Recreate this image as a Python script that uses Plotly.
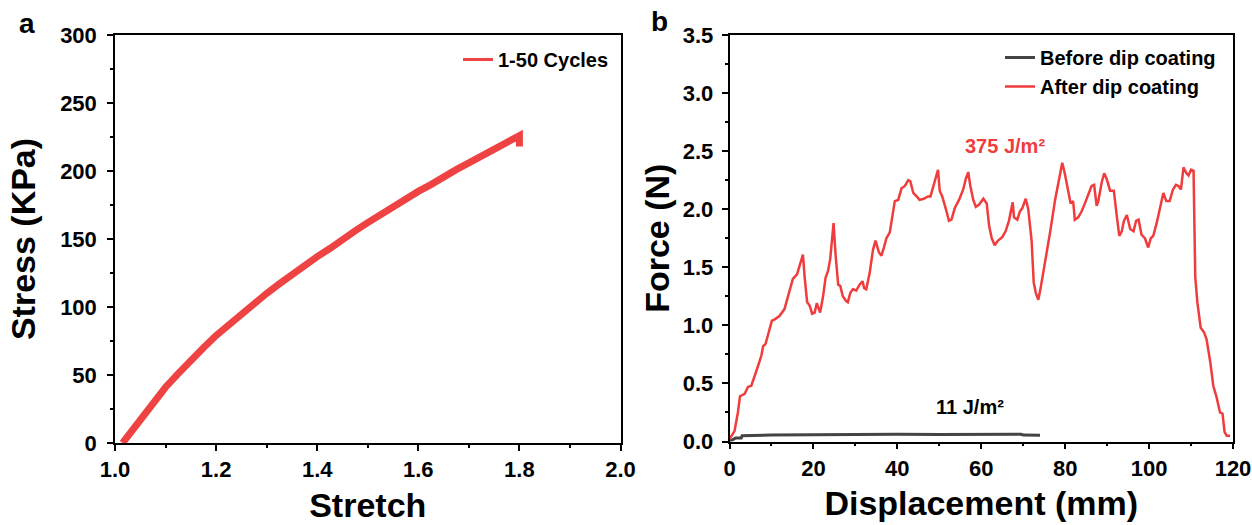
import plotly.graph_objects as go

# ---------------- data: panel a (stress vs stretch, 1-50 cycles) ----------------
stretch = [1.015, 1.05, 1.075, 1.1, 1.125, 1.15, 1.175, 1.2, 1.225, 1.25, 1.275, 1.3, 1.325, 1.35,
           1.375, 1.4, 1.425, 1.45, 1.475, 1.5, 1.525, 1.55, 1.575, 1.6, 1.625, 1.65, 1.675, 1.7,
           1.725, 1.75, 1.775, 1.8, 1.8]
stress = [0, 17, 29, 41, 51, 61, 70, 79, 87, 95, 103, 110, 117, 124, 131, 137, 143, 150, 156, 162,
          168, 174, 179, 185, 190, 196, 201, 206, 211, 216, 221, 226, 218]

# ---------------- data: panel b (force vs displacement) ----------------
before_x = [0, 0.8, 1.5, 2.8, 3.0, 10, 20, 30, 40, 50, 60, 69.5, 70, 74]
before_y = [0.0, 0.02, 0.03, 0.03, 0.05, 0.055, 0.058, 0.058, 0.062, 0.06, 0.06, 0.062, 0.055, 0.053]

after_x = [0, 1.2, 2.0, 2.5, 3.6, 4.4, 5.2, 6.0, 6.8, 7.6, 8.0, 8.6, 9.4, 10.1, 10.7, 11.9, 13.1, 14.3,
           15.1, 16.1, 16.9, 17.5, 17.9, 18.5, 19.1, 19.7, 20.3, 20.8, 21.6, 22.3, 22.9, 23.5, 24.0, 24.8,
           25.3, 25.9, 26.4, 27.0, 27.8, 28.2, 28.8, 29.4, 30.2, 31.0, 31.7, 32.1, 32.6, 33.4, 34.2, 34.8,
           35.6, 36.2, 36.8, 37.4, 38.2, 38.8, 39.4, 40.2, 41.0, 41.8, 42.6, 43.1, 43.8, 44.6, 45.3, 46.3,
           47.3, 47.9, 48.9, 49.7, 50.1, 50.7, 51.5, 52.3, 52.9, 53.7, 54.7, 55.7, 56.3, 56.9, 57.4, 58.1,
           58.7, 59.5, 60.5, 61.3, 61.9, 62.5, 63.2, 64.0, 65.0, 65.8, 66.6, 67.5, 67.8, 68.6, 69.2, 69.8,
           70.6, 71.2, 72.0, 72.5, 73.0, 73.6, 74.1, 75.2, 76.4, 77.6, 78.8, 79.3, 79.9, 80.7, 81.3, 81.9,
           82.3, 83.1, 83.9, 84.7, 85.5, 86.3, 86.9, 87.5, 87.9, 88.7, 89.3, 89.9, 90.7, 91.6, 92.3, 92.9,
           93.5, 94.0, 94.7, 95.5, 96.3, 96.9, 97.5, 98.2, 99.0, 99.8, 100.4, 101.0, 101.8, 102.6, 103.4,
           104.1, 104.9, 105.7, 106.4, 107.0, 107.6, 108.2, 108.9, 109.4, 110.0, 110.6, 111.0, 111.5, 112.3,
           113.1, 113.7, 114.6, 115.3, 116.1, 116.9, 117.5, 118.0, 118.5, 119.3]
after_y = [0.02, 0.09, 0.25, 0.39, 0.41, 0.47, 0.48, 0.56, 0.65, 0.74, 0.82, 0.84, 0.95, 1.04, 1.05, 1.08,
           1.14, 1.31, 1.40, 1.44, 1.53, 1.61, 1.42, 1.20, 1.17, 1.10, 1.11, 1.19, 1.11, 1.25, 1.41, 1.47,
           1.57, 1.88, 1.60, 1.35, 1.34, 1.25, 1.21, 1.20, 1.28, 1.31, 1.30, 1.35, 1.38, 1.32, 1.31, 1.45,
           1.65, 1.73, 1.63, 1.60, 1.67, 1.75, 1.80, 1.94, 2.07, 2.08, 2.18, 2.20, 2.25, 2.24, 2.14, 2.11,
           2.08, 2.09, 2.11, 2.11, 2.23, 2.34, 2.16, 2.11, 2.01, 1.90, 1.91, 2.01, 2.08, 2.17, 2.26, 2.32,
           2.20, 2.08, 2.02, 2.04, 2.09, 2.05, 1.85, 1.75, 1.69, 1.73, 1.76, 1.81, 1.90, 2.06, 1.93, 1.91,
           1.98, 2.01, 2.09, 2.00, 1.73, 1.37, 1.28, 1.22, 1.31, 1.54, 1.80, 2.08, 2.31, 2.40, 2.31, 2.14,
           2.05, 2.07, 1.91, 1.93, 1.98, 2.05, 2.12, 2.20, 2.21, 2.03, 2.07, 2.23, 2.31, 2.26, 2.16, 2.16,
           1.94, 1.77, 1.81, 1.90, 1.95, 1.83, 1.81, 1.90, 1.91, 1.78, 1.75, 1.67, 1.75, 1.77, 1.88, 2.00,
           2.14, 2.07, 2.07, 2.17, 2.21, 2.20, 2.17, 2.36, 2.31, 2.29, 2.34, 2.33, 1.42, 1.20, 0.98, 0.94,
           0.88, 0.68, 0.48, 0.38, 0.25, 0.24, 0.08, 0.05, 0.05]

stress_ticks = [0, 50, 100, 150, 200, 250, 300]
stretch_ticks = [1.0, 1.2, 1.4, 1.6, 1.8, 2.0]
force_ticks = [0.0, 0.5, 1.0, 1.5, 2.0, 2.5, 3.0, 3.5]
disp_ticks = [0, 20, 40, 60, 80, 100, 120]

RED = "#f03c3c"
RED_A = "#ef4242"
GRAY = "#444444"
FONT = "Liberation Sans, Arial, sans-serif"
W, H = 1252, 525

def px_x(p):
    return p / W

def px_y(p):
    return 1 - p / H

fig = go.Figure()
# thick band = 50 overlapping loading cycles
fig.add_trace(go.Scatter(x=stretch, y=stress, mode="lines", name="1-50 Cycles", showlegend=False,
                         line=dict(color=RED_A, width=7), xaxis="x", yaxis="y"))
# legend entry (thin sample line as in the original)
fig.add_trace(go.Scatter(x=[None], y=[None], mode="lines", name="1-50 Cycles",
                         line=dict(color=RED_A, width=3), xaxis="x", yaxis="y", legend="legend"))
fig.add_trace(go.Scatter(x=before_x, y=before_y, mode="lines", name="Before dip coating",
                         line=dict(color=GRAY, width=3), xaxis="x2", yaxis="y2", legend="legend2"))
fig.add_trace(go.Scatter(x=after_x, y=after_y, mode="lines", name="After dip coating",
                         line=dict(color=RED, width=2.5), xaxis="x2", yaxis="y2", legend="legend2"))

tickfont = dict(family=FONT, size=22, color="black", weight="bold")
titlefont = dict(family=FONT, size=34, color="black", weight="bold")

def axis(domain, rng, ticks, minor_dtick, title, anchor, fmt=None, standoff=10, lstand=None):
    d = dict(domain=domain, range=rng, tickmode="array", tickvals=ticks, automargin=False,
             ticks="outside", ticklen=6, tickwidth=1.5, tickcolor="black",
             showline=True, linewidth=1.5, linecolor="black", mirror=True,
             showgrid=False, zeroline=False, tickfont=tickfont, anchor=anchor,
             minor=dict(ticks="outside", ticklen=3, tickwidth=1.5, tickcolor="black",
                        dtick=minor_dtick, tick0=rng[0], showgrid=False),
             title=dict(text=title, font=titlefont, standoff=standoff))
    if fmt:
        d["tickformat"] = fmt
    if lstand is not None:
        d["ticklabelstandoff"] = lstand
    return d

fig.update_layout(
    width=W, height=H, margin=dict(l=0, r=0, t=0, b=0, autoexpand=False),
    paper_bgcolor="white", plot_bgcolor="white",
    xaxis=axis([px_x(115), px_x(620.5)], [1.0, 2.0], stretch_ticks, 0.1, "Stretch", "y", ".1f", 12, 0),
    yaxis=axis([px_y(443), px_y(35)], [0, 300], stress_ticks, 25, "Stress (KPa)", "x", None, 14, 6),
    xaxis2=axis([px_x(729.5), px_x(1233)], [0, 120], disp_ticks, 10, "Displacement (mm)", "y2", None, 12, 0),
    yaxis2=axis([px_y(441.5), px_y(35)], [0, 3.5], force_ticks, 0.25, "Force (N)", "x2", ".1f", 3, 4),
    legend=dict(x=px_x(458), y=px_y(40), xanchor="left", yanchor="top",
                bgcolor="rgba(0,0,0,0)", font=dict(family=FONT, size=20, color="black", weight="bold")),
    legend2=dict(x=px_x(1000), y=px_y(38), xanchor="left", yanchor="top", tracegroupgap=0,
                 bgcolor="rgba(0,0,0,0)", font=dict(family=FONT, size=20, color="black", weight="bold")),
    showlegend=True,
)

fig.add_annotation(text="a", xref="paper", yref="paper", x=px_x(27), y=px_y(23),
                   xanchor="center", yanchor="middle",
                   showarrow=False, font=dict(family=FONT, size=28, color="black", weight="bold"))
fig.add_annotation(text="b", xref="paper", yref="paper", x=px_x(659), y=px_y(22),
                   xanchor="center", yanchor="middle",
                   showarrow=False, font=dict(family=FONT, size=28, color="black", weight="bold"))
fig.add_annotation(text="375 J/m²", xref="x2", yref="y2", x=65.6, y=2.545, showarrow=False,
                   font=dict(family=FONT, size=20, color=RED, weight="bold"))
fig.add_annotation(text="11 J/m²", xref="x2", yref="y2", x=57.3, y=0.30, showarrow=False,
                   font=dict(family=FONT, size=20, color="black", weight="bold"))

fig.write_html("out.html")
